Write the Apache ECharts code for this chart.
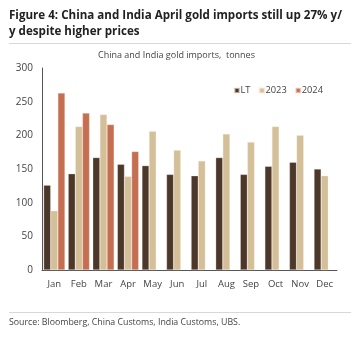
<!DOCTYPE html>
<html><head><meta charset="utf-8">
<script src="https://cdn.jsdelivr.net/npm/echarts@6/dist/echarts.min.js"></script>
<style>html,body{margin:0;padding:0;background:#fff}#c{width:361px;height:340px}</style>
</head><body><div id="c"></div>
<script>
const months = ['Jan','Feb','Mar','Apr','May','Jun','Jul','Aug','Sep','Oct','Nov','Dec'];
const lt = [126,143,167,157,155,142,140,167,142,154,160,150];
const y2023 = [88,213,231,139,206,178,162,202,190,213,200,140];
const y2024 = [263,233,216,176,null,null,null,null,null,null,null,null];
const yTicks = [0,50,100,150,200,250,300];
const FONT = '"Open Sans", "Noto Sans", sans-serif';
const chart = echarts.init(document.getElementById('c'), null, {renderer:'canvas'});
function bar(name, data, color){
  return {name, type:'bar', data, barGap:'0%', barCategoryGap:'13%',
    itemStyle:{color, borderColor:'rgba(255,235,225,0.6)', borderWidth:0.5}};
}
chart.setOption({
  animation:false,
  textStyle:{fontFamily:FONT},
  graphic:[
    {type:'text', left:9, top:8, style:{text:'Figure 4: China and India April gold imports still up 27% y/\ny despite higher prices', font:'bold 11.6px '+FONT, fill:'#222', lineHeight:16}},
    {type:'rect', shape:{x:9,y:43,width:342,height:1}, style:{fill:'#d8d8d8'}},
    {type:'text', left:98, top:51, style:{text:'China and India gold imports,  tonnes', font:'9px '+FONT, fill:'#444'}},
    {type:'rect', shape:{x:9,y:312,width:342,height:1}, style:{fill:'#d8d8d8'}},
    {type:'text', left:9, top:318, style:{text:'Source: Bloomberg, China Customs, India Customs, UBS.', font:'8.8px '+FONT, fill:'#444'}}
  ],
  legend:{right:33, top:81, itemWidth:5, itemHeight:5, itemGap:8, icon:'rect',
    textStyle:{fontSize:9.3, color:'#444', padding:[0,0,0,-4]},
    data:['LT','2023','2024']},
  grid:{left:42, right:24, top:68, bottom:70, containLabel:false},
  xAxis:{type:'category', data:months,
    axisLine:{lineStyle:{color:'#555', width:1}}, axisTick:{show:false},
    axisLabel:{color:'#444', fontSize:9.5, margin:9, interval:0}},
  yAxis:{type:'value', min:0, max:300, interval:50,
    axisLine:{show:true, lineStyle:{color:'#555', width:1}}, axisTick:{show:false},
    splitLine:{show:false},
    axisLabel:{color:'#444', fontSize:10, margin:9, formatter:v=>yTicks.includes(v)?String(v):''}},
  series:[
    bar('LT', lt, '#4b382b'),
    bar('2023', y2023, '#d3bf98'),
    bar('2024', y2024, '#c46e52')
  ]
});
</script></body></html>
